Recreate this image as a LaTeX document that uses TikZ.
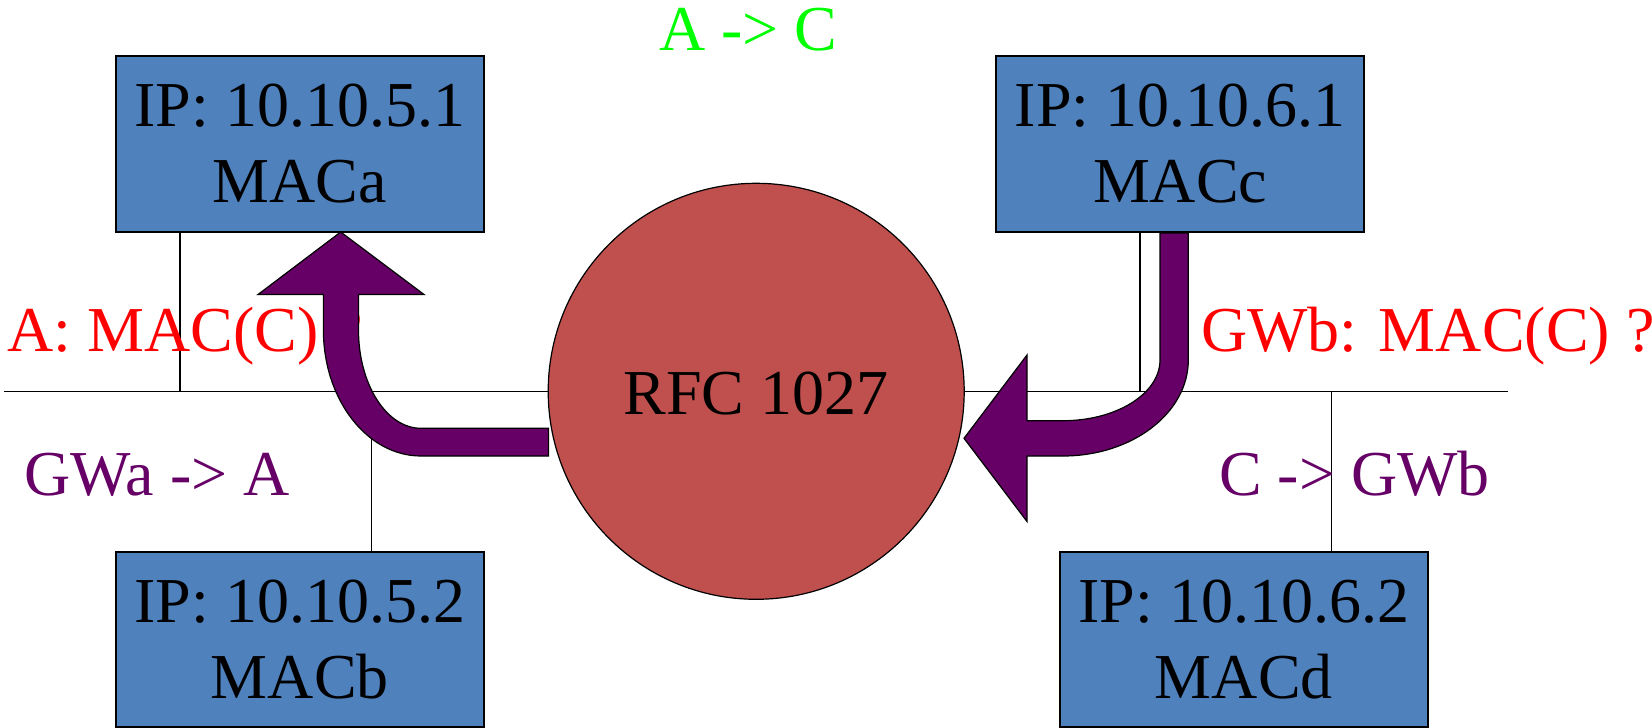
\documentclass[tikz,border=0pt]{standalone}
\usepackage{fontspec}
\setmainfont{Liberation Serif}
\definecolor{boxblue}{RGB}{79,129,189}
\definecolor{hubred}{RGB}{192,80,77}
\definecolor{flowpurple}{RGB}{102,0,102}
\definecolor{askred}{RGB}{255,0,0}
\definecolor{okgreen}{RGB}{0,255,0}

\begin{document}
\begin{tikzpicture}[x=1pt,y=-1pt,
  host/.style={draw=black, line width=2pt, fill=boxblue, minimum width=368pt,
    minimum height=175.5pt, inner sep=0pt, align=center,
    font=\fontsize{64}{76}\selectfont},
  wire/.style={draw=black, line width=1.4pt},
  lbl/.style={anchor=base west, inner sep=0pt, font=\fontsize{64}{76}\selectfont},
  flow/.style={fill=flowpurple, draw=black, line width=1.2pt, line join=miter}]

\useasboundingbox (0,0) rectangle (1652,728);

% hosts on the two subnets
\node[host] (ha) at (299.85,143.85) {IP: 10.10.5.1\\MACa};
\node[host] (hc) at (1180.15,143.85) {IP: 10.10.6.1\\MACc};
\node[host] (hb) at (299.85,639.5) {IP: 10.10.5.2\\MACb};
\node[host] (hd) at (1243.85,639.5) {IP: 10.10.6.2\\MACd};

% shared cable and the drops to each host
\coordinate (busW) at (3.8,391.7);
\coordinate (busE) at (1507.7,391.7);
\coordinate (tapA) at (180,391.7);
\coordinate (tapB) at (371.7,391.7);
\coordinate (tapC) at (1140,391.7);
\coordinate (tapD) at (1331.7,391.7);
\draw[wire] (busW) -- (busE);
\draw[wire] (ha.south -| tapA) -- (tapA);
\draw[wire] (tapB) -- (hb.north -| tapB);
\draw[wire] (hc.south -| tapC) -- (tapC);
\draw[wire] (tapD) -- (hd.north -| tapD);

% labels
\node[lbl, text=askred] (qa) at (7.5,351.7) {A: MAC(C) ?};
\node[lbl, text=flowpurple] (ra) at (24,495.7) {GWa -> A};
\node[lbl, text=okgreen] (ac) at (659,50) {A -> C};
\node[lbl, text=askred] (qb) at (1201,351.7) {GWb: MAC(C) ?};
\node[lbl, text=flowpurple] (rb) at (1219,495.7) {C -> GWb};

% proxy ARP gateway
\node[circle, draw=black, line width=1.2pt, fill=hubred, minimum size=416pt,
  inner sep=0pt, text height=46pt, text depth=0pt,
  font=\fontsize{64}{76}\selectfont] (hub) at (756.2,391.3) {RFC 1027};

% reply path towards host A
\path[flow] (340.7,232) -- (424,294.5) -- (358.5,294.5) -- (358.5,330)
  .. controls (358.5,384.3) and (386.5,428.3) .. (421,428.3)
  -- (548.5,428.3) -- (548.5,456) -- (421,456)
  .. controls (367.1,456) and (323.4,399.6) .. (323.4,330)
  -- (323.4,294.5) -- (258,294.5) -- cycle;

% request path from host C
\path[flow] (964,438.3) -- (1027,355) -- (1027,420.7) -- (1063,420.7)
  .. controls (1116.6,420.7) and (1160,393.5) .. (1160,360)
  -- (1160,233) -- (1188.3,233) -- (1188.3,360)
  .. controls (1188.3,413) and (1132.2,456) .. (1063,456)
  -- (1027,456) -- (1027,521.5) -- cycle;
\end{tikzpicture}
\end{document}
